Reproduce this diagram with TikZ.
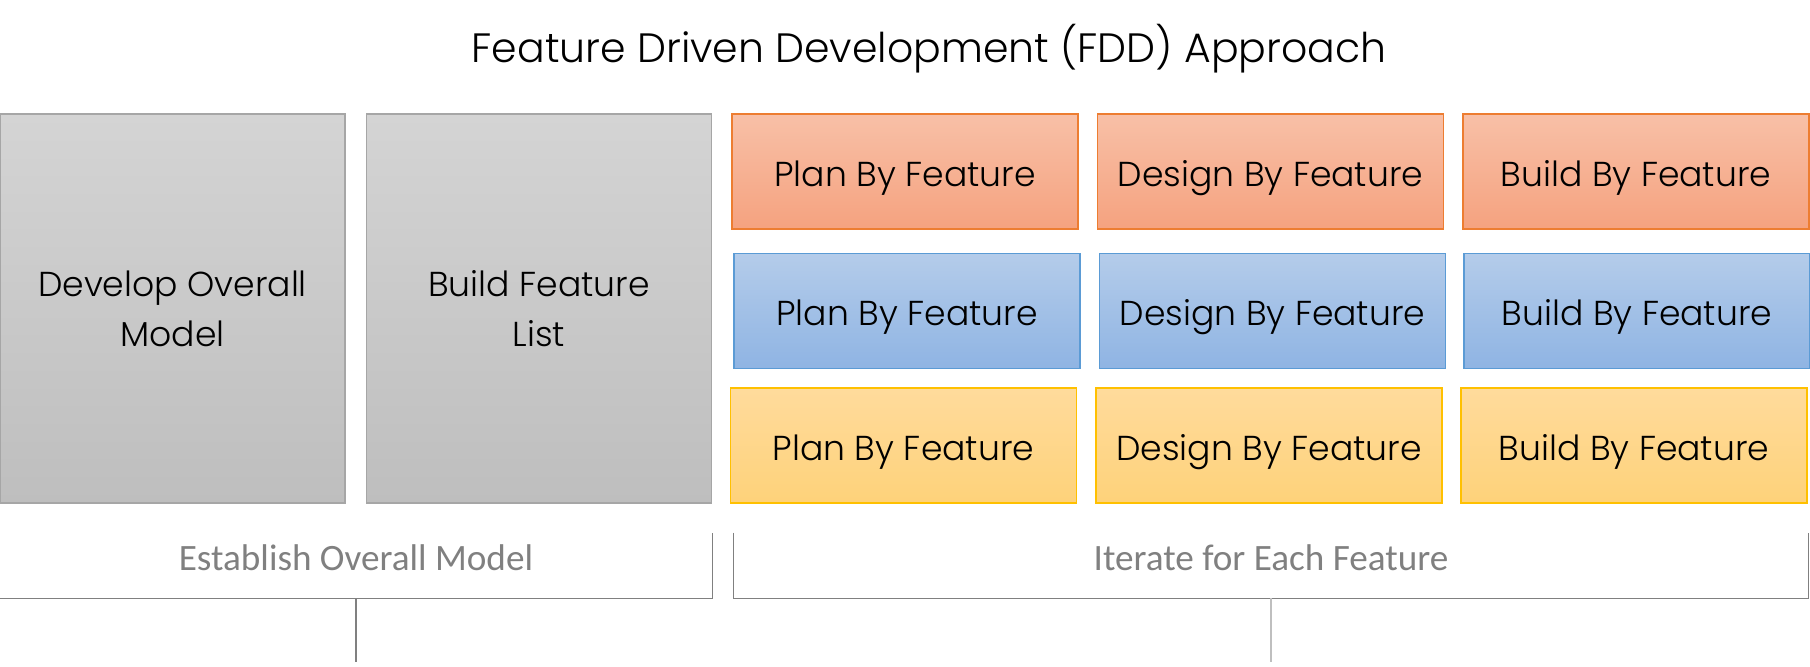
\documentclass[tikz,border=0pt]{standalone}
\usepackage{fontspec}
\IfFontExistsTF{Poppins Light}{\setmainfont{Poppins Light}}{\setmainfont{Poppins}}
\newfontfamily\labelfont{Carlito}
\usepackage{tikz}
\usetikzlibrary{positioning}

\definecolor{grayTop}{HTML}{D4D4D4}
\definecolor{grayBot}{HTML}{BEBEBE}
\definecolor{grayLine}{HTML}{A6A6A6}
\definecolor{orangeTop}{HTML}{F8C0A7}
\definecolor{orangeBot}{HTML}{F5A27F}
\definecolor{orangeLine}{HTML}{ED7D31}
\definecolor{blueTop}{HTML}{B4CCEA}
\definecolor{blueBot}{HTML}{8FB4E3}
\definecolor{blueLine}{HTML}{5B9BD5}
\definecolor{yellowTop}{HTML}{FFDB9C}
\definecolor{yellowBot}{HTML}{FED27A}
\definecolor{yellowLine}{HTML}{FFC000}
\definecolor{bracketGray}{HTML}{808080}

\tikzset{
  phase/.style={draw=grayLine, line width=0.6pt, top color=grayTop, bottom color=grayBot,
    minimum width=172.5pt, minimum height=194.5pt, inner sep=0pt, align=center,
    font=\fontsize{17.3}{25}\selectfont},
  featbox/.style={line width=0.6pt, minimum width=173pt, minimum height=57.5pt, inner sep=0pt,
    text height=36.2pt, text depth=21.3pt, font=\fontsize{17.3}{20}\selectfont},
  orangebox/.style={featbox, draw=orangeLine, top color=orangeTop, bottom color=orangeBot},
  bluebox/.style={featbox, draw=blueLine, top color=blueTop, bottom color=blueBot},
  yellowbox/.style={featbox, draw=yellowLine, top color=yellowTop, bottom color=yellowBot},
  stage/.style={inner sep=0pt, minimum height=32.5pt, text height=17.5pt, text depth=12.5pt,
    text=bracketGray, font=\labelfont\fontsize{18.6}{20}\selectfont},
}

\begin{document}
\begin{tikzpicture}[x=0.5pt, y=-0.5pt]
      \useasboundingbox (0,0) rectangle (1810,667);

      \node (title) at (929,49) {\fontsize{20.5}{24}\selectfont Feature Driven Development (FDD) Approach};

      % establish overall model
      \node[phase] (model) at (172.5,308.5) {Develop Overall\\Model};
      \node[phase] (list) at (539,308.5) {Build Feature\\List};

      % iterate for each feature
      \node[orangebox] (plan1) at (905,171.5) {Plan By Feature};
      \node[orangebox] (design1) at (1270.5,171.5) {Design By Feature};
      \node[orangebox] (build1) at (1636,171.5) {Build By Feature};

      \node[bluebox] (plan2) at (907,311) {Plan By Feature};
      \node[bluebox] (design2) at (1272.5,311) {Design By Feature};
      \node[bluebox] (build2) at (1637,311) {Build By Feature};

      \node[yellowbox] (plan3) at (903.5,445.5) {Plan By Feature};
      \node[yellowbox] (design3) at (1269,445.5) {Design By Feature};
      \node[yellowbox] (build3) at (1634,445.5) {Build By Feature};

      % brackets
      \node[stage, minimum width=356pt] (establish) at (356,565.5) {Establish Overall Model};
      \node[stage, minimum width=537pt] (iterate) at (1271,565.5) {Iterate for Each Feature};
      \coordinate (establishEnd) at (356,662);
      \coordinate (iterateEnd) at (1271,662);

      \draw[bracketGray, line width=0.6pt] (establish.north west) |- (establish.south east) -- (establish.north east);
      \draw[bracketGray, line width=0.6pt] (iterate.north west) |- (iterate.south east) -- (iterate.north east);
      \draw[bracketGray, line width=0.6pt] (establish.south) -- (establishEnd);
      \draw[gray!50, line width=0.6pt] (iterate.south) -- (iterateEnd);
    \end{tikzpicture}
\end{document}
